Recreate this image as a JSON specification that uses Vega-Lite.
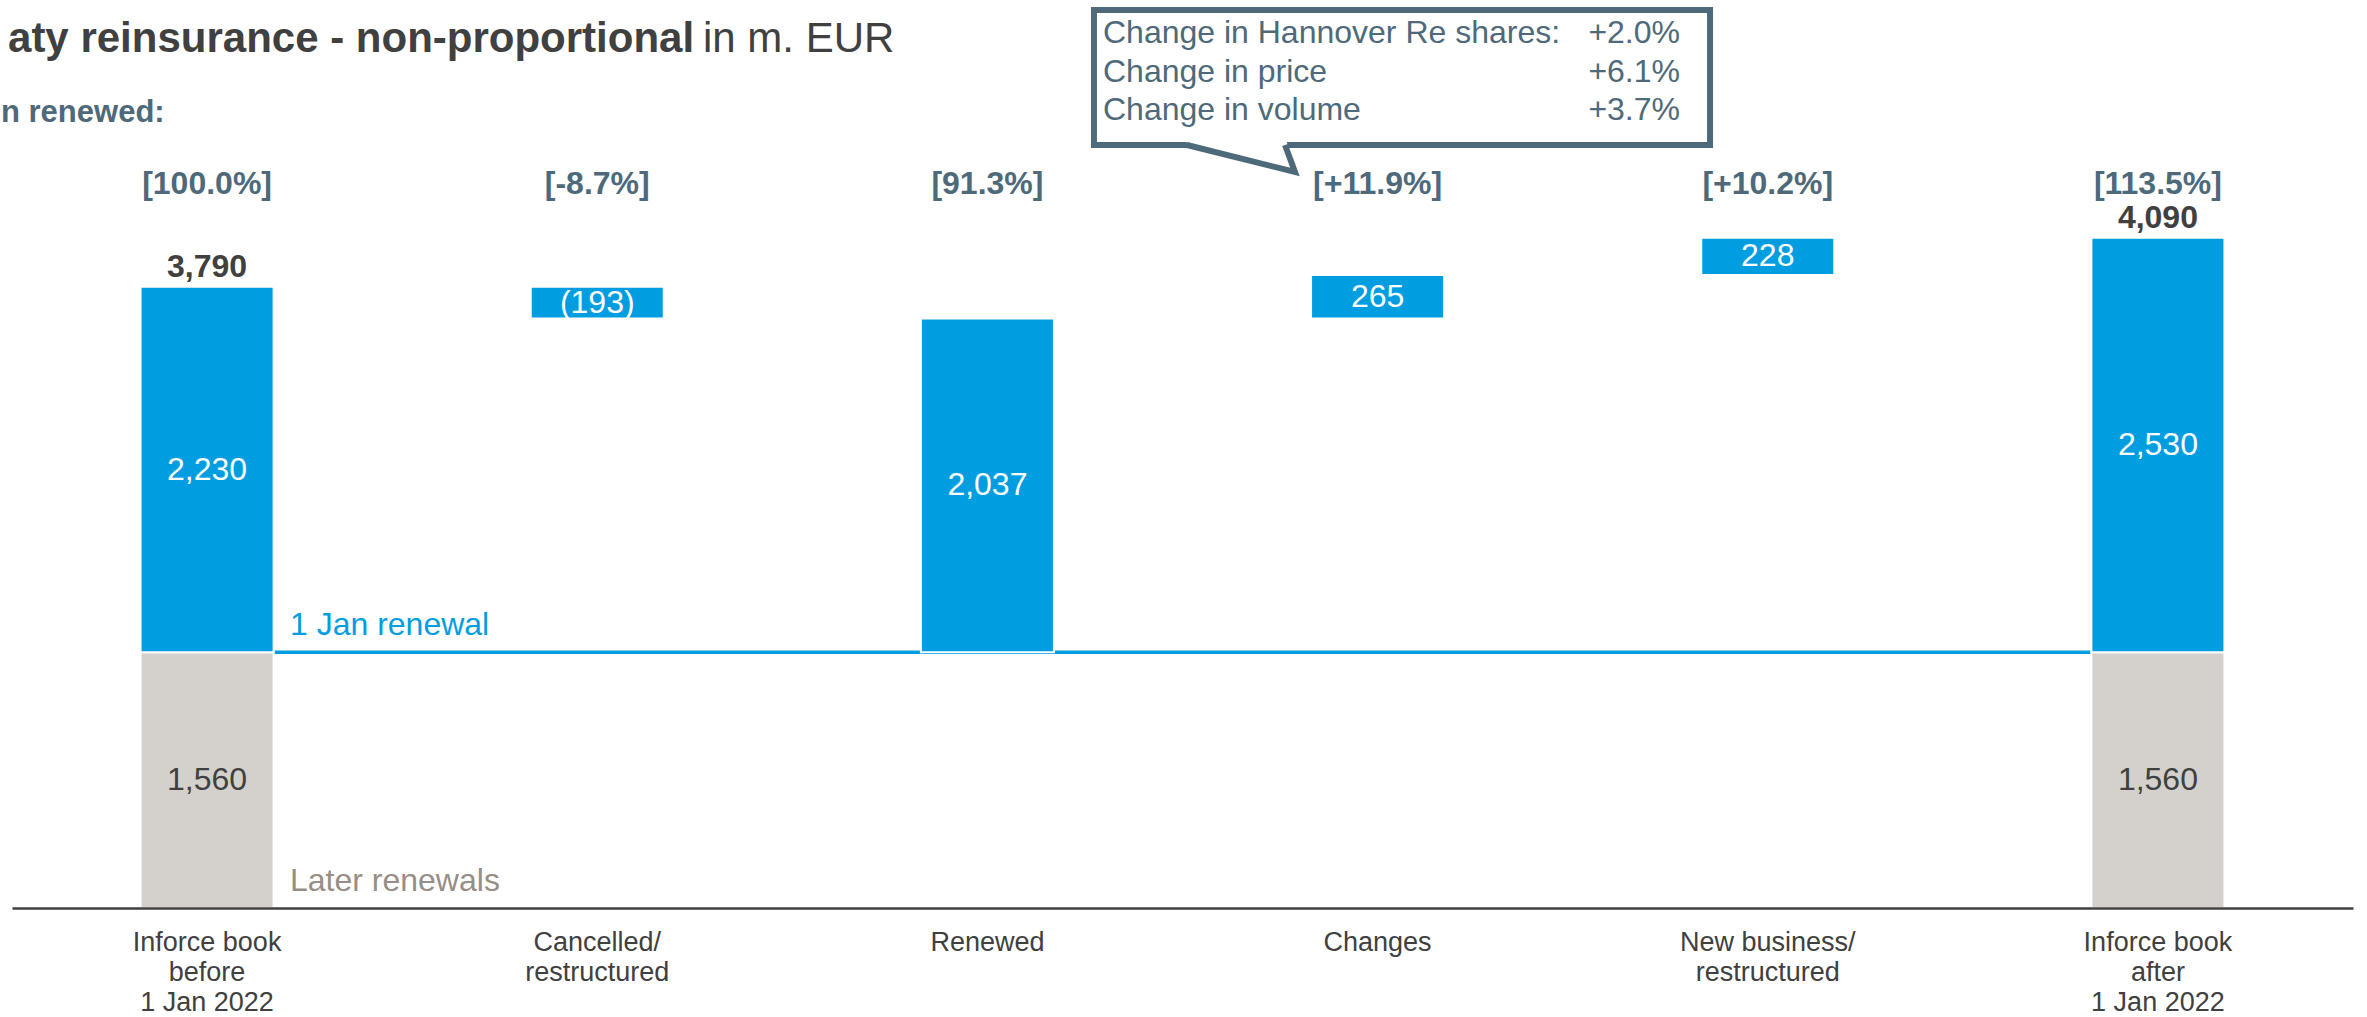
{
  "$schema": "https://vega.github.io/schema/vega-lite/v6.json",
  "width": 2367,
  "height": 908,
  "autosize": {"type": "none"},
  "padding": {"left": 0, "top": 0, "right": 0, "bottom": 109},
  "background": "white",
  "config": {"view": {"stroke": null}, "font": "Liberation Sans", "text": {"font": "Liberation Sans"}},
  "datasets": {
    "bars": [
      {"cat": "Inforce book\nbefore\n1 Jan 2022", "seg": "later", "start": 0, "end": 1560, "label": "1,560"},
      {"cat": "Inforce book\nbefore\n1 Jan 2022", "seg": "jan", "start": 1560, "end": 3790, "label": "2,230"},
      {"cat": "Cancelled/\nrestructured", "seg": "jan", "start": 3597, "end": 3790, "label": "(193)"},
      {"cat": "Renewed", "seg": "jan", "start": 1560, "end": 3597, "label": "2,037"},
      {"cat": "Changes", "seg": "jan", "start": 3597, "end": 3862, "label": "265"},
      {"cat": "New business/\nrestructured", "seg": "jan", "start": 3862, "end": 4090, "label": "228"},
      {"cat": "Inforce book\nafter\n1 Jan 2022", "seg": "later", "start": 0, "end": 1560, "label": "1,560"},
      {"cat": "Inforce book\nafter\n1 Jan 2022", "seg": "jan", "start": 1560, "end": 4090, "label": "2,530"}
    ],
    "totals": [
      {"cat": "Inforce book\nbefore\n1 Jan 2022", "total": 3790},
      {"cat": "Inforce book\nafter\n1 Jan 2022", "total": 4090}
    ],
    "shares": [
      {"cat": "Inforce book\nbefore\n1 Jan 2022", "share": "[100.0%]"},
      {"cat": "Cancelled/\nrestructured", "share": "[-8.7%]"},
      {"cat": "Renewed", "share": "[91.3%]"},
      {"cat": "Changes", "share": "[+11.9%]"},
      {"cat": "New business/\nrestructured", "share": "[+10.2%]"},
      {"cat": "Inforce book\nafter\n1 Jan 2022", "share": "[113.5%]"}
    ],
    "callout": [
      {"items": "Change in Hannover Re shares:\nChange in price\nChange in volume", "values": "+2.0%\n+6.1%\n+3.7%"}
    ]
  },
  "resolve": {"scale": {"x": "independent"}},
  "layer": [
    {
      "encoding": {
        "x": {
          "field": "cat", "type": "nominal", "sort": null,
          "scale": {
            "domain": ["Inforce book\nbefore\n1 Jan 2022", "Cancelled/\nrestructured", "Renewed", "Changes", "New business/\nrestructured", "Inforce book\nafter\n1 Jan 2022"],
            "range": [12, 2353], "paddingInner": 0.659, "paddingOuter": 0.3295
          },
          "axis": {
            "labelExpr": "split(datum.label, '\\n')", "labelFontSize": 27, "labelColor": "#404040",
            "labelFont": "Liberation Sans", "labelLineHeight": 30, "labelPadding": 21, "labelBaseline": "top",
            "ticks": false, "tickSize": 0, "domainColor": "#404040", "domainWidth": 2.5,
            "labelAngle": 0, "title": null, "labelLimit": 0, "zindex": 1, "grid": false
          }
        }
      },
      "layer": [
        {
          "data": {"values": [{}]},
          "mark": {"type": "rule", "color": "#009ee0", "strokeWidth": 3.5},
          "encoding": {
            "x": {"datum": "Inforce book\nbefore\n1 Jan 2022", "type": "nominal"},
            "x2": {"datum": "Inforce book\nafter\n1 Jan 2022"},
            "y": {"datum": 1560, "type": "quantitative", "scale": {"domain": [0, 5540], "nice": false, "zero": false}, "axis": null}
          }
        },
        {
          "data": {"name": "bars"},
          "mark": {"type": "bar", "stroke": "white", "strokeWidth": 2},
          "encoding": {
            "y": {"field": "start", "type": "quantitative", "scale": {"domain": [0, 5540], "nice": false, "zero": false}, "axis": null},
            "y2": {"field": "end"},
            "color": {"field": "seg", "type": "nominal", "scale": {"domain": ["jan", "later"], "range": ["#009ee0", "#d4d1cc"]}, "legend": null}
          }
        },
        {
          "data": {"name": "bars"},
          "transform": [{"fold": ["start", "end"], "as": ["k", "v"]}],
          "mark": {"type": "text", "fontSize": 32, "baseline": "middle", "align": "center"},
          "encoding": {
            "y": {"field": "v", "aggregate": "mean", "type": "quantitative", "scale": {"domain": [0, 5540], "nice": false, "zero": false}, "axis": null},
            "text": {"field": "label"},
            "detail": {"field": "seg"},
            "color": {"condition": {"test": "datum.seg === 'later'", "value": "#404040"}, "value": "#ffffff"}
          }
        },
        {
          "data": {"name": "totals"},
          "mark": {"type": "text", "fontSize": 32, "fontWeight": "bold", "color": "#404040", "baseline": "alphabetic", "align": "center", "dy": -10},
          "encoding": {
            "y": {"field": "total", "type": "quantitative", "scale": {"domain": [0, 5540], "nice": false, "zero": false}, "axis": null},
            "text": {"field": "total", "type": "quantitative", "format": ","}
          }
        },
        {
          "data": {"name": "shares"},
          "mark": {"type": "text", "fontSize": 32, "fontWeight": "bold", "color": "#4e6a7a", "baseline": "alphabetic", "align": "center"},
          "encoding": {
            "y": {"datum": 4356.3, "type": "quantitative", "scale": {"domain": [0, 5540], "nice": false, "zero": false}, "axis": null},
            "text": {"field": "share"}
          }
        }
      ]
    },
    {
      "data": {"values": [{}]},
      "layer": [
        {
          "mark": {"type": "text", "fontSize": 42, "fontWeight": "bold", "color": "#404040", "align": "left", "baseline": "alphabetic"},
          "encoding": {
            "x": {"datum": -0.5102, "type": "quantitative", "scale": {"domain": [-0.5, 5.5], "range": [12, 2353], "nice": false, "zero": false}, "axis": null},
            "y": {"datum": 5222.7, "type": "quantitative", "scale": {"domain": [0, 5540], "nice": false, "zero": false}, "axis": null},
            "text": {"value": "aty reinsurance - non-proportional"}
          }
        },
        {
          "mark": {"type": "text", "fontSize": 42, "color": "#404040", "align": "left", "baseline": "alphabetic"},
          "encoding": {
            "x": {"datum": 1.2710, "type": "quantitative", "scale": {"domain": [-0.5, 5.5], "range": [12, 2353], "nice": false, "zero": false}, "axis": null},
            "y": {"datum": 5222.7, "type": "quantitative", "scale": {"domain": [0, 5540], "nice": false, "zero": false}, "axis": null},
            "text": {"value": "in m. EUR"}
          }
        },
        {
          "mark": {"type": "text", "fontSize": 31, "fontWeight": "bold", "color": "#4e6a7a", "align": "left", "baseline": "alphabetic"},
          "encoding": {
            "x": {"datum": -0.5282, "type": "quantitative", "scale": {"domain": [-0.5, 5.5], "range": [12, 2353], "nice": false, "zero": false}, "axis": null},
            "y": {"datum": 4795.6, "type": "quantitative", "scale": {"domain": [0, 5540], "nice": false, "zero": false}, "axis": null},
            "text": {"value": "n renewed:"}
          }
        },
        {
          "mark": {"type": "text", "fontSize": 32, "color": "#009ee0", "align": "left", "baseline": "alphabetic"},
          "encoding": {
            "x": {"datum": 0.2125, "type": "quantitative", "scale": {"domain": [-0.5, 5.5], "range": [12, 2353], "nice": false, "zero": false}, "axis": null},
            "y": {"datum": 1665.7, "type": "quantitative", "scale": {"domain": [0, 5540], "nice": false, "zero": false}, "axis": null},
            "text": {"value": "1 Jan renewal"}
          }
        },
        {
          "mark": {"type": "text", "fontSize": 32, "color": "#978e85", "align": "left", "baseline": "alphabetic"},
          "encoding": {
            "x": {"datum": 0.2125, "type": "quantitative", "scale": {"domain": [-0.5, 5.5], "range": [12, 2353], "nice": false, "zero": false}, "axis": null},
            "y": {"datum": 103.7, "type": "quantitative", "scale": {"domain": [0, 5540], "nice": false, "zero": false}, "axis": null},
            "text": {"value": "Later renewals"}
          }
        },
        {
          "mark": {"type": "rect", "fill": "white", "stroke": "#4e6a7a", "strokeWidth": 6},
          "encoding": {
            "x": {"datum": 2.2731, "type": "quantitative", "scale": {"domain": [-0.5, 5.5], "range": [12, 2353], "nice": false, "zero": false}, "axis": null},
            "x2": {"datum": 3.8521},
            "y": {"datum": 5479.0, "type": "quantitative", "scale": {"domain": [0, 5540], "nice": false, "zero": false}, "axis": null},
            "y2": {"datum": 4655.3}
          }
        },
        {
          "mark": {"type": "point", "shape": "M -1.1 -0.3167 L 0.9 0.2333 L 0.75 -0.3167 Z", "size": 14400, "filled": true, "fill": "white", "strokeWidth": 0, "opacity": 1},
          "encoding": {
            "x": {"datum": 2.6499, "type": "quantitative", "scale": {"domain": [-0.5, 5.5], "range": [12, 2353], "nice": false, "zero": false}, "axis": null},
            "y": {"datum": 4575.9, "type": "quantitative", "scale": {"domain": [0, 5540], "nice": false, "zero": false}, "axis": null}
          }
        },
        {
          "mark": {"type": "point", "shape": "M -0.9 -0.2167 L 0.9 0.2333 L 0.7333 -0.2167", "size": 14400, "filled": false, "stroke": "#4e6a7a", "strokeWidth": 6, "strokeJoin": "miter", "opacity": 1},
          "encoding": {
            "x": {"datum": 2.6499, "type": "quantitative", "scale": {"domain": [-0.5, 5.5], "range": [12, 2353], "nice": false, "zero": false}, "axis": null},
            "y": {"datum": 4575.9, "type": "quantitative", "scale": {"domain": [0, 5540], "nice": false, "zero": false}, "axis": null}
          }
        },
        {
          "data": {"name": "callout"},
          "mark": {"type": "text", "fontSize": 32, "color": "#4e6a7a", "align": "left", "baseline": "alphabetic", "lineBreak": "\n", "lineHeight": 38.5},
          "encoding": {
            "x": {"datum": 2.2962, "type": "quantitative", "scale": {"domain": [-0.5, 5.5], "range": [12, 2353], "nice": false, "zero": false}, "axis": null},
            "y": {"datum": 5277.6, "type": "quantitative", "scale": {"domain": [0, 5540], "nice": false, "zero": false}, "axis": null},
            "text": {"field": "items"}
          }
        },
        {
          "data": {"name": "callout"},
          "mark": {"type": "text", "fontSize": 32, "color": "#4e6a7a", "align": "right", "baseline": "alphabetic", "lineBreak": "\n", "lineHeight": 38.5},
          "encoding": {
            "x": {"datum": 3.7751, "type": "quantitative", "scale": {"domain": [-0.5, 5.5], "range": [12, 2353], "nice": false, "zero": false}, "axis": null},
            "y": {"datum": 5277.6, "type": "quantitative", "scale": {"domain": [0, 5540], "nice": false, "zero": false}, "axis": null},
            "text": {"field": "values"}
          }
        }
      ]
    }
  ]
}
